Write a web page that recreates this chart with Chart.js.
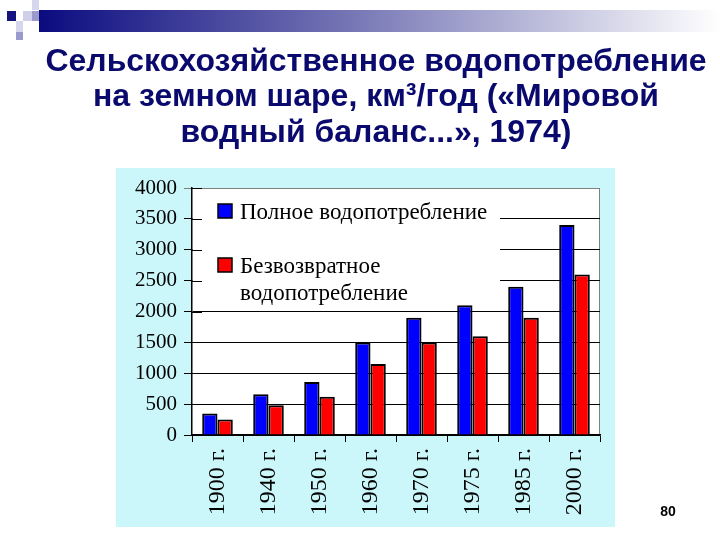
<!DOCTYPE html>
<html>
<head>
<meta charset="utf-8">
<script src="https://cdn.jsdelivr.net/npm/chart.js@4.4.1/dist/chart.umd.min.js"></script>
<style>
  html, body { margin: 0; padding: 0; background: #fff; }
  #waterChart { display: block; }
</style>
</head>
<body>
<canvas id="waterChart" width="720" height="540"></canvas>
<script>
// data
const years = ['1900 г.', '1940 г.', '1950 г.', '1960 г.', '1970 г.', '1975 г.', '1985 г.', '2000 г.'];
const totalUse = [350, 660, 860, 1500, 1900, 2100, 2400, 3400];
const lostUse = [250, 480, 620, 1150, 1500, 1600, 1900, 2600];
const seriesNames = ['Полное водопотребление', 'Безвозвратное водопотребление'];
const legendLines = [['Полное водопотребление'], ['Безвозвратное', 'водопотребление']];
const yMin = 0, yMax = 4000, yStep = 500;
const titleLines = ['Сельскохозяйственное водопотребление', 'на земном шаре, км³/год («Мировой', 'водный баланс...», 1974)'];
const pageNumber = '80';

const serif = "'Liberation Serif', 'Times New Roman', serif";
const sans = "'Liberation Sans', Arial, sans-serif";

const slide = {
  id: 'slide',
  beforeDraw(chart) {
    const c = chart.ctx;
    const a = chart.chartArea;
    c.save();
    c.fillStyle = '#fff';
    c.fillRect(0, 0, chart.width, chart.height);

    // top decoration
    const g = c.createLinearGradient(39, 0, 720, 0);
    g.addColorStop(0, '#0b0b80');
    g.addColorStop(0.45, '#7474b4');
    g.addColorStop(1, '#ffffff');
    c.fillStyle = g;
    c.fillRect(39, 10, 681, 22);
    c.fillStyle = '#14147e'; c.fillRect(7, 11, 9, 10);
    c.fillStyle = '#cfcfea'; c.fillRect(23, 11, 9, 10);
    c.fillStyle = '#d6d6ee'; c.fillRect(32, 0, 7, 10);
    c.fillStyle = '#9a9acc'; c.fillRect(32, 11, 7, 10);
    c.fillStyle = '#d6d6ee'; c.fillRect(16, 21, 7, 11);
    c.fillStyle = '#9a9acc'; c.fillRect(16, 32, 7, 8);

    // title
    c.fillStyle = '#0a0a6e';
    c.font = 'bold 32px ' + sans;
    c.textAlign = 'center';
    c.textBaseline = 'middle';
    titleLines.forEach((line, i) => c.fillText(line, 376, 62 + i * 35.5));

    // cyan panel
    c.fillStyle = '#cbf7fa';
    c.fillRect(116, 168, 499, 359);

    // plot area
    c.fillStyle = '#fff';
    c.fillRect(a.left, a.top, a.right - a.left, a.bottom - a.top);
    c.strokeStyle = '#808080';
    c.lineWidth = 1;
    c.beginPath();
    c.moveTo(a.left, a.top + 0.5);
    c.lineTo(a.right - 0.5, a.top + 0.5);
    c.lineTo(a.right - 0.5, a.bottom);
    c.stroke();
    c.restore();
  },
  beforeDatasetsDraw(chart) {
    // legend box over the grid
    const c = chart.ctx;
    const a = chart.chartArea;
    c.save();
    c.fillStyle = '#fff';
    c.fillRect(a.left + 1, a.top + 5, 307, 109);
    // y ticks cross the axis
    const y = chart.scales.y;
    c.strokeStyle = '#000';
    c.lineWidth = 1;
    y.ticks.forEach((t) => {
      const py = Math.round(y.getPixelForValue(t.value)) + 0.5;
      c.beginPath();
      c.moveTo(a.left, py);
      c.lineTo(a.left + 10, py);
      c.stroke();
    });
    c.font = '23px ' + serif;
    c.textBaseline = 'middle';
    c.textAlign = 'left';
    const tops = [a.top + 16, a.top + 70];
    chart.data.datasets.forEach((ds, i) => {
      c.fillStyle = ds.backgroundColor;
      c.fillRect(a.left + 26, tops[i], 14, 14);
      c.strokeStyle = '#000';
      c.lineWidth = 1.5;
      c.strokeRect(a.left + 26, tops[i], 14, 14);
      c.fillStyle = '#000';
      legendLines[i].forEach((line, j) => {
        c.fillText(line, a.left + 48, tops[i] + 9 + j * 27);
      });
    });
    c.restore();
  },
  afterDraw(chart) {
    const c = chart.ctx;
    c.save();
    c.font = 'bold 14px ' + sans;
    c.fillStyle = '#000';
    c.textAlign = 'center';
    c.textBaseline = 'middle';
    c.fillText(pageNumber, 668, 512);
    c.restore();
  }
};

new Chart(document.getElementById('waterChart'), {
  type: 'bar',
  data: {
    labels: years,
    datasets: [{
      label: seriesNames[0],
      data: totalUse,
      backgroundColor: '#0000ff',
      borderColor: '#000',
      borderWidth: 2,
      borderSkipped: 'bottom'
    }, {
      label: seriesNames[1],
      data: lostUse,
      backgroundColor: '#ff0000',
      borderColor: '#000',
      borderWidth: 2,
      borderSkipped: 'bottom'
    }]
  },
  options: {
    responsive: false,
    devicePixelRatio: 1,
    animation: false,
    categoryPercentage: 0.6,
    barPercentage: 1.0,
    layout: { padding: { left: 112, right: 120, top: 188, bottom: 0 } },
    plugins: {
      legend: { display: false },
      tooltip: { enabled: false },
      title: { display: false }
    },
    scales: {
      x: {
        afterFit(scale) { scale.height = 105; },
        grid: { drawOnChartArea: false, tickLength: 7, color: '#000' },
        border: { color: '#000', width: 1.5 },
        ticks: {
          color: '#000',
          font: { family: serif, size: 24 },
          minRotation: 90,
          maxRotation: 90,
          padding: 6
        }
      },
      y: {
        min: yMin,
        max: yMax,
        afterFit(scale) { scale.width = 80; },
        grid: {
          color: (ctx) => ctx.tick && ctx.tick.value === yMax ? '#808080' : '#000',
          lineWidth: 1,
          tickLength: 8
        },
        border: { color: '#000', width: 1.5 },
        ticks: {
          stepSize: yStep,
          color: '#000',
          font: { family: serif, size: 21 },
          padding: 7,
          callback: (v) => String(v)
        }
      }
    }
  },
  plugins: [slide]
});
</script>
</body>
</html>
